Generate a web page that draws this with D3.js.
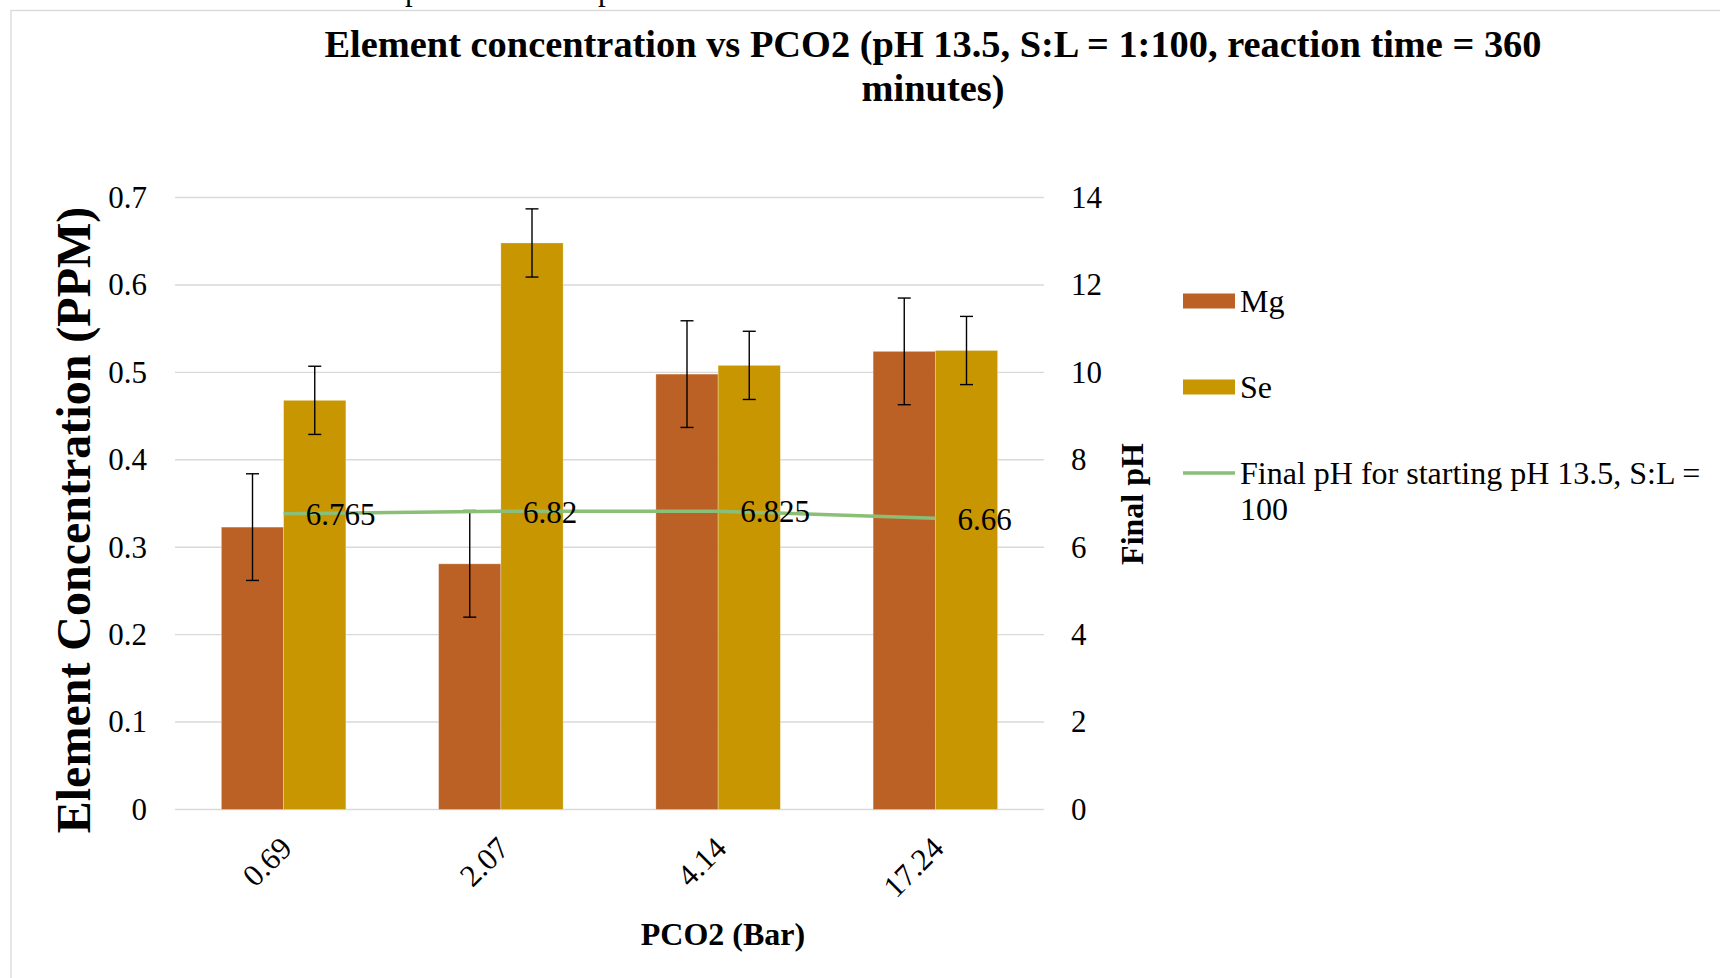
<!DOCTYPE html>
<html>
<head>
<meta charset="utf-8">
<script src="https://cdn.jsdelivr.net/npm/d3@7"></script>
<style>
  html, body { margin: 0; padding: 0; background: #fff; }
  svg { display: block; }
  text { font-family: "Liberation Serif", "Times New Roman", serif; fill: #000; }
</style>
</head>
<body>
<svg id="chart" width="1720" height="978"></svg>
<script>
// Sample categories: CO2 partial pressure (bar)
const categories = ["0.69", "2.07", "4.14", "17.24"];
// Element concentrations (ppm) with error half-widths
const mgValues = [0.323, 0.281, 0.498, 0.524];
const mgErrors = [0.061, 0.061, 0.061, 0.061];
const seValues = [0.468, 0.648, 0.508, 0.525];
const seErrors = [0.039, 0.039, 0.039, 0.039];
// Final pH after reaction (secondary axis)
const finalPH = [6.765, 6.82, 6.825, 6.66];
// Axis ticks
const leftTicks = [0, 0.1, 0.2, 0.3, 0.4, 0.5, 0.6, 0.7];
const rightTicks = [0, 2, 4, 6, 8, 10, 12, 14];

const seriesNames = ["Mg", "Se"];
const colors = { Mg: "#BB6125", Se: "#C89600", line: "#8BBE76" };

const svg = d3.select("#chart");

// Frame of the chart object
svg.append("rect")
  .attr("x", 11).attr("y", 10.5)
  .attr("width", 1760).attr("height", 1000)
  .attr("fill", "none").attr("stroke", "#d9d9d9").attr("stroke-width", 1.3);

// Descenders of the line of text above the frame
svg.append("g").selectAll("text").data([405, 598]).join("text")
  .attr("x", d => d).attr("y", -0.5)
  .attr("font-size", 31).text("p");

const plot = { left: 175, right: 1044, top: 197.5, bottom: 809.5 };

const x = d3.scaleBand().domain(categories)
  .range([plot.left, plot.right])
  .paddingInner(0.427).paddingOuter(0.2135);
const xs = d3.scaleBand().domain(seriesNames).range([0, x.bandwidth()]);
const yL = d3.scaleLinear().domain([0, 0.7]).range([plot.bottom, plot.top]);
const yR = d3.scaleLinear().domain([0, 14]).range([plot.bottom, plot.top]);

// Gridlines
svg.append("g").selectAll("line").data(leftTicks).join("line")
  .attr("x1", plot.left).attr("x2", plot.right)
  .attr("y1", d => yL(d)).attr("y2", d => yL(d))
  .attr("stroke", "#d9d9d9").attr("stroke-width", 1.4);

// Left axis
const leftAxis = svg.append("g")
  .attr("transform", `translate(${plot.left - 28},0)`)
  .call(d3.axisLeft(yL).tickValues(leftTicks).tickSize(0).tickPadding(0)
    .tickFormat(d3.format("")));
leftAxis.select(".domain").remove();
leftAxis.selectAll("text").attr("font-size", 31)
  .attr("font-family", "Liberation Serif, Times New Roman, serif");

// Right axis
const rightAxis = svg.append("g")
  .attr("transform", `translate(${plot.right + 27},0)`)
  .call(d3.axisRight(yR).tickValues(rightTicks).tickSize(0).tickPadding(0));
rightAxis.select(".domain").remove();
rightAxis.selectAll("text").attr("font-size", 31)
  .attr("font-family", "Liberation Serif, Times New Roman, serif");

// Bars
const rows = categories.map((c, i) => ({
  cat: c,
  items: [
    { key: "Mg", v: mgValues[i], e: mgErrors[i] },
    { key: "Se", v: seValues[i], e: seErrors[i] }
  ]
}));

const groups = svg.append("g").selectAll("g").data(rows).join("g")
  .attr("transform", d => `translate(${x(d.cat)},0)`);

groups.selectAll("rect").data(d => d.items).join("rect")
  .attr("x", d => xs(d.key))
  .attr("y", d => yL(d.v))
  .attr("width", xs.bandwidth())
  .attr("height", d => yL(0) - yL(d.v))
  .attr("fill", d => colors[d.key])
  .attr("stroke", "rgba(255,255,255,0.35)").attr("stroke-width", 0.8);

// Error bars
const eb = groups.selectAll("g.err").data(d => d.items).join("g").attr("class", "err")
  .attr("transform", d => `translate(${xs(d.key) + xs.bandwidth() / 2},0)`);
eb.append("line")
  .attr("y1", d => yL(d.v + d.e)).attr("y2", d => yL(d.v - d.e))
  .attr("stroke", "#000").attr("stroke-width", 1.4);
eb.selectAll("line.cap").data(d => [d.v + d.e, d.v - d.e]).join("line").attr("class", "cap")
  .attr("x1", -6.5).attr("x2", 6.5)
  .attr("y1", d => yL(d)).attr("y2", d => yL(d))
  .attr("stroke", "#000").attr("stroke-width", 1.4);

// Final pH line on the secondary axis
const cx = c => x(c) + x.bandwidth() / 2;
const line = d3.line().x((d, i) => cx(categories[i])).y(d => yR(d));
svg.append("path").datum(finalPH)
  .attr("d", line).attr("fill", "none")
  .attr("stroke", colors.line).attr("stroke-width", 3.5);

svg.append("g").selectAll("text").data(finalPH).join("text")
  .attr("x", (d, i) => cx(categories[i]) + 22)
  .attr("y", d => yR(d))
  .attr("dy", "0.36em")
  .attr("font-size", 31)
  .text(d => d);

// Category labels
svg.append("g").selectAll("text").data(categories).join("text")
  .attr("transform", d => `translate(${cx(d) + 10},850) rotate(-45)`)
  .attr("text-anchor", "end")
  .attr("font-size", 31)
  .text(d => d);

// Titles
svg.append("text").attr("x", 933).attr("y", 57).attr("text-anchor", "middle")
  .attr("font-size", 38.4).attr("font-weight", "bold")
  .text("Element concentration vs PCO2 (pH 13.5, S:L = 1:100, reaction time = 360");
svg.append("text").attr("x", 933).attr("y", 101).attr("text-anchor", "middle")
  .attr("font-size", 38.4).attr("font-weight", "bold")
  .text("minutes)");

svg.append("text").attr("transform", "translate(90,520) rotate(-90)")
  .attr("text-anchor", "middle")
  .attr("font-size", 48).attr("font-weight", "bold")
  .text("Element Concentration (PPM)");

svg.append("text").attr("transform", "translate(1143,504) rotate(-90)")
  .attr("text-anchor", "middle")
  .attr("font-size", 32).attr("font-weight", "bold")
  .text("Final pH");

svg.append("text").attr("x", 723).attr("y", 945).attr("text-anchor", "middle")
  .attr("font-size", 32).attr("font-weight", "bold")
  .text("PCO2 (Bar)");

// Legend
const legend = svg.append("g");
const legendItems = [
  { name: "Mg", type: "bar", color: colors.Mg, lines: ["Mg"] },
  { name: "Se", type: "bar", color: colors.Se, lines: ["Se"] },
  { name: "pH", type: "line", color: colors.line, lines: ["Final pH for starting pH 13.5, S:L =", "100"] }
];
const lg = legend.selectAll("g").data(legendItems).join("g")
  .attr("transform", (d, i) => `translate(1183,${301 + i * 86})`);
lg.filter(d => d.type === "bar").append("rect")
  .attr("x", 0).attr("y", -7.5).attr("width", 52).attr("height", 15)
  .attr("fill", d => d.color);
lg.filter(d => d.type === "line").append("line")
  .attr("x1", 0).attr("x2", 52).attr("y1", 0).attr("y2", 0)
  .attr("stroke", d => d.color).attr("stroke-width", 3.5);
lg.each(function(d) {
  const t = d3.select(this).append("text").attr("x", 57).attr("y", 10.5).attr("font-size", 32);
  d.lines.forEach((s, j) => {
    t.append("tspan").attr("x", 57).attr("dy", j === 0 ? 0 : 36).text(s);
  });
});
</script>
</body>
</html>
